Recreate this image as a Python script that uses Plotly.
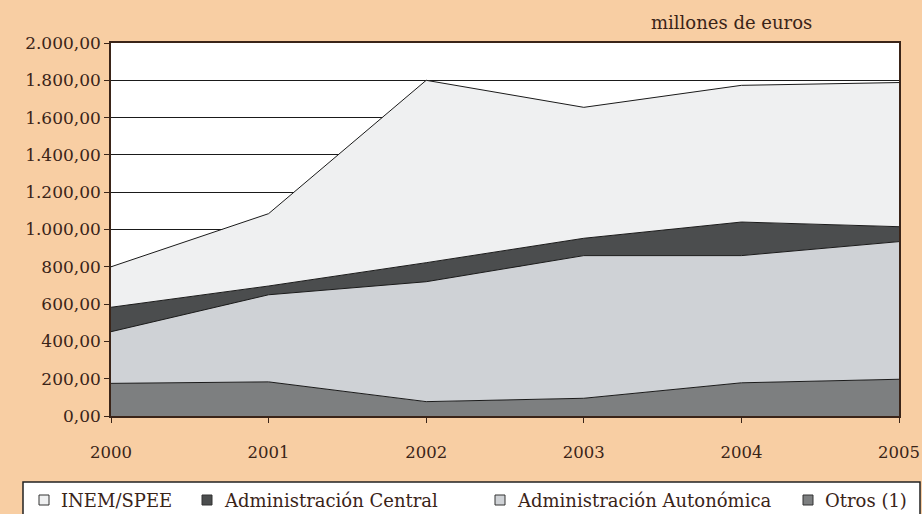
import plotly.graph_objects as go

years = [2000, 2001, 2002, 2003, 2004, 2005]
otros = [175, 183, 77, 95, 178, 197]
autonomica = [277, 467, 643, 765, 682, 738]
central = [131, 47, 102, 93, 180, 80]
inem = [217, 388, 978, 702, 733, 773]

series = [
    ("Otros (1)", otros, "#7d7f80"),
    ("Administración Autonómica", autonomica, "#cfd2d6"),
    ("Administración Central", central, "#4b4d4e"),
    ("INEM/SPEE", inem, "#eff0f1"),
]

legend_order = ["INEM/SPEE", "Administración Central", "Administración Autonómica", "Otros (1)"]
legend_x = [39, 202, 495, 803]

bg = "#f8cea3"
ink = "#3a2418"
font = "DejaVu Serif"

L, R, T, B = 111, 899, 43, 416
W, H = R - L, B - T


def px(x):
    return (x - L) / W


def py(y):
    return (B - y) / H


fig = go.Figure()
for name, vals, col in series:
    fig.add_trace(go.Scatter(
        x=years, y=vals, name=name, mode="lines", stackgroup="one",
        fillcolor=col, line=dict(color="#1a1a1a", width=1), showlegend=False,
    ))

colors = {n: c for n, _, c in series}
shapes = [dict(type="rect", xref="paper", yref="paper",
               x0=px(23), x1=px(920), y0=py(530), y1=py(482),
               fillcolor="white", line=dict(color="#222", width=1.5), layer="below")]
annotations = [dict(text="millones de euros", xref="paper", yref="paper",
                    x=px(814), y=py(23), xanchor="right", yanchor="middle",
                    showarrow=False, font=dict(family=font, size=18, color=ink))]
yc = 500
for name, lx in zip(legend_order, legend_x):
    shapes.append(dict(type="rect", xref="paper", yref="paper",
                       x0=px(lx), x1=px(lx + 10), y0=py(yc + 5), y1=py(yc - 5),
                       fillcolor=colors[name], line=dict(color="#333", width=1)))
    annotations.append(dict(text=name, xref="paper", yref="paper",
                            x=px(lx + 20), y=py(yc), xanchor="left", yanchor="middle",
                            showarrow=False, font=dict(family=font, size=18, color=ink)))

fig.update_layout(
    width=922, height=514,
    margin=dict(l=L, r=922 - R, t=T, b=514 - B),
    paper_bgcolor=bg, plot_bgcolor="white",
    separators=",.",
    font=dict(family=font, size=17, color=ink),
    showlegend=False,
    shapes=shapes, annotations=annotations,
    xaxis=dict(range=[2000, 2005], tickvals=years, ticktext=[str(y) for y in years],
               showgrid=False, zeroline=False, showline=True, mirror=True,
               linecolor=ink, linewidth=1.5, ticks="outside", ticklen=5, tickcolor=ink,
               ticklabeloverflow="allow", ticklabelstandoff=15, automargin=False,
               tickfont=dict(family=font, size=16.5, color=ink)),
    yaxis=dict(range=[0, 2000], dtick=200, tickformat=",.2f",
               showgrid=True, gridcolor="#1a1a1a", gridwidth=1.2, zeroline=False,
               showline=True, mirror=True, linecolor=ink, linewidth=1.5,
               ticks="outside", ticklen=5, tickcolor=ink, automargin=False,
               tickfont=dict(family=font, size=17, color=ink)),
)

fig.write_html("out.html", config={"displayModeBar": False},
               post_script="document.body.style.margin='0';")
